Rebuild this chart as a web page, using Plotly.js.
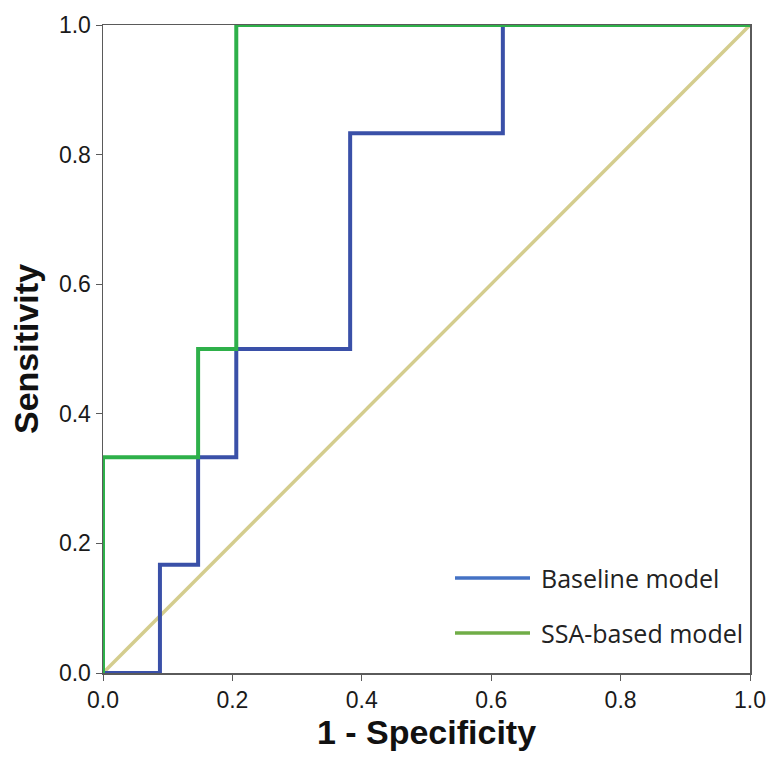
<!DOCTYPE html>
<html>
<head>
<meta charset="utf-8">
<script src="https://cdn.plot.ly/plotly-3.0.1.min.js"></script>
<style>html,body{margin:0;padding:0;background:#fff;}#chart{width:768px;height:757px;}</style>
</head>
<body>
<div id="chart"></div>
<script>
// ROC curve data
const baselineFPR = [0, 0.088, 0.088, 0.147, 0.147, 0.206, 0.206, 0.382, 0.382, 0.618, 0.618, 1.0];
const baselineTPR = [0, 0, 0.167, 0.167, 0.333, 0.333, 0.5, 0.5, 0.833, 0.833, 1.0, 1.0];
const ssaFPR = [0, 0, 0.147, 0.147, 0.206, 0.206, 1.0];
const ssaTPR = [0, 0.333, 0.333, 0.5, 0.5, 1.0, 1.0];
const refX = [0, 1];
const refY = [0, 1];
const tickVals = [0, 0.2, 0.4, 0.6, 0.8, 1.0];
const tickText = ["0.0", "0.2", "0.4", "0.6", "0.8", "1.0"];
const seriesNames = ["Baseline model", "SSA-based model"];

const traces = [
  {x: refX, y: refY, mode: 'lines', line: {color: '#d4cd8e', width: 3.5}, showlegend: false, hoverinfo: 'skip'},
  {x: baselineFPR, y: baselineTPR, mode: 'lines', name: seriesNames[0], line: {color: '#3a50a8', width: 4}, showlegend: false},
  {x: ssaFPR, y: ssaTPR, mode: 'lines', name: seriesNames[1], line: {color: '#2eb04a', width: 4}, showlegend: false}
];

const axisCommon = {
  range: [0, 1], tickvals: tickVals, ticktext: tickText,
  showgrid: false, zeroline: false, showline: true, mirror: true,
  linecolor: '#5a5a5a', linewidth: 1.5, ticks: 'outside', ticklen: 6, tickcolor: '#5a5a5a',
  tickfont: {family: 'Liberation Sans, Arial', size: 23, color: '#1a1a1a'}
};

const layout = {
  width: 768, height: 757,
  margin: {l: 103, r: 18, t: 25, b: 84},
  paper_bgcolor: '#fff', plot_bgcolor: '#fff',
  xaxis: Object.assign({}, axisCommon, {
    title: {text: '<b>1 - Specificity</b>', font: {family: 'Liberation Sans, Arial', size: 34, color: '#111'}, standoff: 8}
  }),
  yaxis: Object.assign({}, axisCommon, {
    title: {text: '<b>Sensitivity</b>', font: {family: 'Liberation Sans, Arial', size: 34, color: '#111'}, standoff: 10}
  }),
  shapes: [
    {type: 'line', xref: 'paper', yref: 'paper', x0: (455-103)/647, x1: (530-103)/647, y0: (673-578)/648, y1: (673-578)/648, line: {color: '#4472c4', width: 3.5}},
    {type: 'line', xref: 'paper', yref: 'paper', x0: (455-103)/647, x1: (530-103)/647, y0: (673-633)/648, y1: (673-633)/648, line: {color: '#70ad47', width: 3.5}}
  ],
  annotations: [
    {xref: 'paper', yref: 'paper', x: (539-103)/647, y: (673-578)/648, xanchor: 'left', yanchor: 'middle', showarrow: false, text: seriesNames[0], font: {family: 'Open Sans', size: 25, color: '#222'}},
    {xref: 'paper', yref: 'paper', x: (539-103)/647, y: (673-633)/648, xanchor: 'left', yanchor: 'middle', showarrow: false, text: seriesNames[1], font: {family: 'Open Sans', size: 25, color: '#222'}}
  ],
  showlegend: false
};

Plotly.newPlot('chart', traces, layout, {displayModeBar: false, staticPlot: true});
</script>
</body>
</html>
